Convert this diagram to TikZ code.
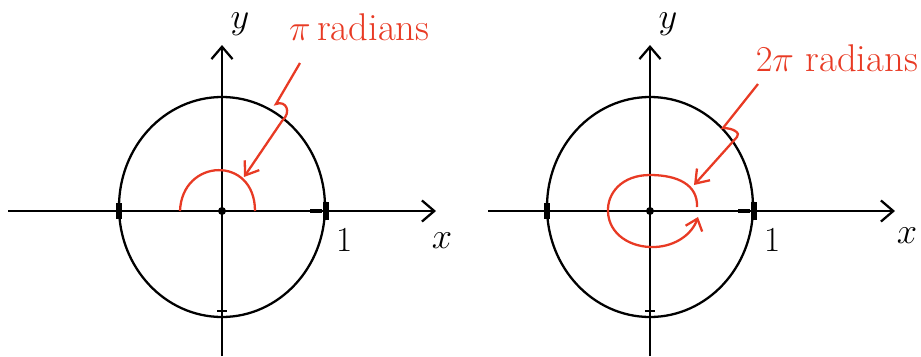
\documentclass[tikz,border=0pt]{standalone}
\usepackage{tikz}
\usetikzlibrary{arrows.meta, positioning}
\definecolor{penred}{RGB}{232,58,36}
\tikzset{
	axisline/.style={line width=1.3pt, -{Straight Barb[length=7pt,width=12pt]}}
}
\tikzset{
	penline/.style={line width=1.3pt, penred}
}
\tikzset{
	pentext/.style={font=\fontsize{22}{26}\selectfont\color{penred}}
}
\tikzset{
	bigtext/.style={font=\fontsize{20}{24}\selectfont}
}

\begin{document}
\begin{tikzpicture}[x=0.02cm, y=-0.02cm]
  \useasboundingbox (0,0) rectangle (921,356);
  % two unit circles with axes
  \foreach \ox/\n/\xl/\xr in {222/1/8/436, 650/2/488/895} {
    \coordinate (o\n) at (\ox,211);
    \coordinate (xs\n) at (\xl,211);
    \coordinate (xe\n) at (\xr,211);
    \coordinate (ys\n) at (\ox,356);
    \coordinate (ye\n) at (\ox,45);
    \draw[axisline] (xs\n) -- (xe\n);
    \draw[axisline] (ys\n) -- (ye\n);
    \draw[line width=1.3pt] (\ox,207) ellipse [x radius=103, y radius=110];
    \draw[line width=1.3pt] (\ox-5,97) -- (\ox+5,97);
    \draw[line width=1.3pt] (\ox-5,311) -- (\ox+5,311);
    \draw[line width=3pt] (\ox+104,202) -- (\ox+104,220);
    \draw[line width=3pt] (\ox-103,203) -- (\ox-103,219);
    \draw[line width=2.5pt] (\ox+88,211) -- (\ox+100,211);
    \fill (o\n) circle [radius=4];
    \node[bigtext] (one\n) at (\ox+123,240) {1};
    \node[bigtext] (y\n) at (\ox+18,24) {$y$};
  }
  \node[bigtext] (x1) at (442,241) {$x$};
  \node[bigtext] (x2) at (907,236) {$x$};

  % pi radians
  \node[pentext, anchor=west] (pi1) at (283,27) {$\pi$\,radians};
  \coordinate (ptr1) at (300,63);
  \coordinate (tip1) at (244,177);
  \draw[penline] (180,211) .. controls (182,158) and (255,155) .. (255,211);
  \draw[penline, -{Straight Barb[length=7pt,width=10pt]}] (ptr1) -- (276,104)
    .. controls (286,100) and (292,112) .. (282,121) -- (tip1);

  % 2 pi radians
  \node[pentext, anchor=east, inner sep=1pt] (pi2) at (920,58) {$2\pi$ radians};
  \coordinate (ptr2) at (758,84);
  \coordinate (tip2) at (694,185);
  \draw[penline, -{Straight Barb[length=6pt,width=10pt]}] (697,207)
    .. controls (698,185) and (678,175) .. (650,175)
    .. controls (622,175) and (607,193) .. (608,212)
    .. controls (609,234) and (630,248) .. (655,247)
    .. controls (676,246) and (692,234) .. (698,217);
  \draw[penline, -{Straight Barb[length=7pt,width=10pt]}] (ptr2) -- (723,128)
    .. controls (733,128) and (741,133) .. (737,137) -- (tip2);
\end{tikzpicture}
\end{document}
